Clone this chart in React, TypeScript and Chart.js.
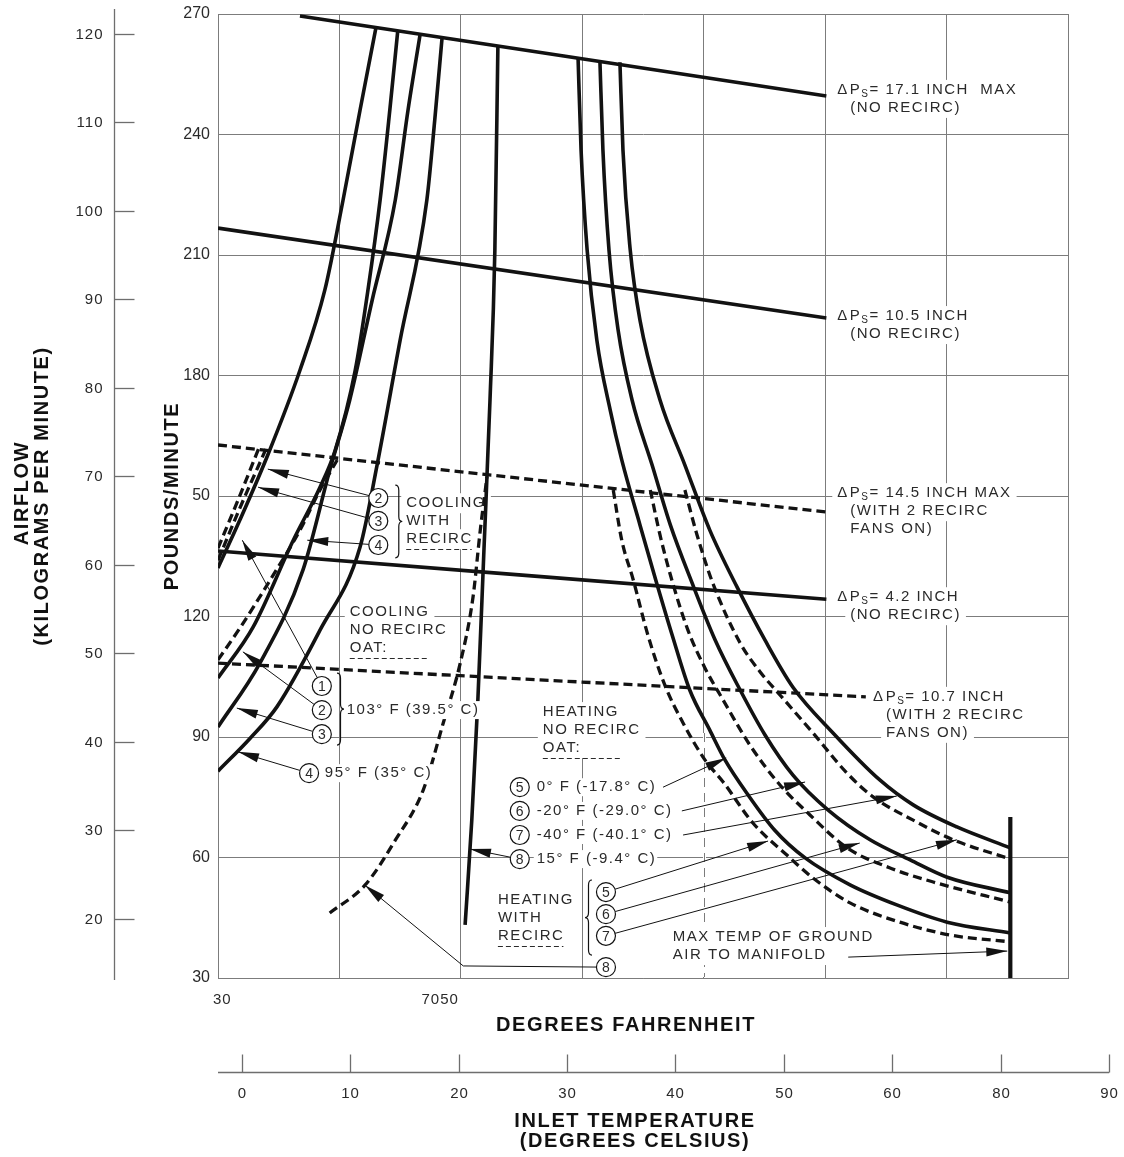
import React, { useEffect, useRef } from "react";
import { Chart, registerables } from "chart.js";
Chart.register(...registerables);

const FONT = '"Liberation Sans", Arial, Helvetica, sans-serif';
const INK = "#121212";
const TEXT = "#2a2a2a";
const GRID = "#7c7c7c";

// ---------- axes ----------
const fMin = 30, fMax = 170, fStep = 20;
const pMin = 30, pMax = 270, pStep = 30;
const yTickValues = [30, 60, 90, 120, 150, 180, 210, 240, 270];
const yTickLabels = ["30", "60", "90", "120", "50", "180", "210", "240", "270"];
const fTickValues = [30, 70];
const fTickLabels = ["30", "7050"];
const kgTickValues = [20, 30, 40, 50, 60, 70, 80, 90, 100, 110, 120];
const kgTickLabels = ["20", "30", "40", "50", "60", "70", "80", "90", "100", "110", "120"];
const kgRange = [13.33, 122.26];
const cTickValues = [0, 10, 20, 30, 40, 50, 60, 70, 80];
const cTickLabels = ["0", "10", "20", "30", "40", "50", "60", "80", "90"];
const cRange = [-2.18, 76.2];

// ---------- pressure-drop lines (F, lb/min) ----------
const dp171F = [43.5, 130.2];
const dp171P = [269.5, 249.6];
const dp105F = [30, 130.2];
const dp105P = [216.7, 194.3];
const dp42F = [30, 130.2];
const dp42P = [136.3, 124.3];
const dp145F = [30, 130.2];
const dp145P = [162.7, 146.0];
const dp107F = [30, 136.7];
const dp107P = [108.4, 100.0];
const maxTempF = [160.5, 160.5];
const maxTempP = [30, 70.1];

// ---------- cooling, no recirc (solid) ----------
const cool1F = [30.0, 33.6, 38.2, 43.5, 47.6, 50.6, 53.4, 56.0];
const cool1P = [132.1, 144.0, 160.2, 181.3, 201.3, 223.7, 246.1, 266.5];
const cool2F = [30.0, 35.8, 42.4, 46.8, 49.3, 52.6, 54.7, 56.7, 58.3, 59.6];
const cool2P = [104.7, 117.4, 139.0, 152.2, 161.4, 181.3, 201.3, 223.7, 246.1, 265.7];
const cool3F = [30.0, 36.9, 44.0, 48.4, 51.7, 55.4, 59.2, 61.3, 63.3];
const cool3P = [92.5, 108.4, 131.6, 156.4, 173.9, 198.8, 223.7, 246.1, 265.0];
const cool4F = [30.0, 35.3, 39.7, 46.8, 53.4, 56.2, 60.0, 64.4, 65.7, 66.9];
const cool4P = [81.5, 89.7, 97.5, 116.6, 137.3, 157.7, 188.8, 223.7, 243.6, 264.0];

// ---------- cooling, with recirc (dashed) ----------
const coolR2F = [30.0, 33.6, 37.9];
const coolR2P = [134.0, 147.0, 161.7];
const coolR3F = [30.0, 33.3, 36.8];
const coolR3P = [137.0, 149.0, 162.2];
const coolR4F = [30.0, 33.6, 38.6, 43.5, 46.8, 49.8];
const coolR4P = [109.2, 117.1, 129.1, 141.5, 151.5, 159.4];

// ---------- curve 8 ----------
const heat8F = [70.7, 71.8, 72.8, 73.8, 74.8, 75.6, 76.1];
const heat8P = [43.2, 69.3, 99.2, 136.5, 173.9, 211.2, 262.0];
const heatR8F = [48.4, 54.2, 59.2, 63.8, 67.1, 69.9, 72.0, 73.2, 74.3];
const heatR8P = [46.2, 53.1, 64.3, 76.8, 93.5, 108.4, 124.8, 141.5, 154.7];

// ---------- heating, no recirc (solid) ----------
const heat5F = [89.3, 89.8, 90.8, 92.4, 94.6, 96.5, 99.5, 102.1, 104.8, 107.7, 111.0, 113.5, 117.3, 121.7, 126.7, 134.1, 141.8, 150.1, 160.5];
const heat5P = [259.3, 236.1, 211.2, 188.8, 171.4, 159.0, 142.8, 129.1, 115.4, 101.7, 91.7, 84.3, 75.6, 66.8, 59.9, 53.2, 48.2, 43.9, 41.2];
const heat6F = [92.9, 93.4, 94.4, 95.9, 98.2, 101.5, 104.5, 108.1, 111.9, 116.0, 120.1, 124.7, 130.5, 137.4, 144.0, 150.1, 160.5];
const heat6P = [258.5, 236.1, 211.2, 191.3, 173.9, 157.7, 142.8, 128.3, 114.1, 101.7, 90.5, 80.5, 71.8, 64.4, 59.4, 55.1, 51.2];
const heat7F = [96.2, 96.7, 97.9, 99.5, 102.8, 106.9, 111.0, 115.5, 120.1, 124.7, 131.3, 139.0, 144.5, 151.7, 160.5];
const heat7P = [258.0, 236.1, 211.2, 193.8, 173.9, 157.7, 141.5, 127.3, 114.1, 102.4, 91.0, 79.3, 73.1, 67.6, 62.4];

// ---------- heating, with recirc (dashed) ----------
const heatR5F = [95.1, 96.5, 98.4, 100.8, 103.6, 106.6, 110.2, 113.2, 118.1, 123.7, 128.0, 134.1, 142.3, 150.6, 160.5];
const heatR5P = [151.5, 139.0, 129.1, 115.4, 102.9, 93.5, 84.3, 78.8, 68.6, 60.6, 54.9, 48.7, 43.9, 40.7, 39.0];
const heatR6F = [101.2, 102.8, 104.9, 107.4, 110.2, 113.2, 117.6, 122.6, 127.5, 133.6, 140.7, 147.8, 160.5];
const heatR6P = [151.5, 140.3, 128.3, 116.6, 107.2, 99.2, 88.0, 78.0, 70.6, 62.4, 57.4, 53.9, 48.9];
const heatR7F = [106.9, 108.9, 111.5, 116.0, 119.3, 122.6, 128.0, 133.6, 137.9, 144.5, 151.1, 160.5];
const heatR7P = [151.5, 140.3, 128.3, 113.4, 106.2, 100.4, 91.0, 81.0, 75.1, 69.3, 64.4, 59.6];

// ---------- annotations (anchored in data units) ----------
const textBlocks = [
  { f: 132.0, p: 251.1, dp: true, lines: ["= 17.1 INCH  MAX", "(NO RECIRC)"] },
  { f: 132.0, p: 194.8, dp: true, lines: ["= 10.5 INCH", "(NO RECIRC)"] },
  { f: 132.0, p: 150.7, dp: true, lines: ["= 14.5 INCH MAX", "(WITH 2 RECIRC", "FANS ON)"] },
  { f: 132.0, p: 124.8, dp: true, lines: ["= 4.2 INCH", "(NO RECIRC)"] },
  { f: 137.9, p: 100.0, dp: true, lines: ["= 10.7 INCH", "(WITH 2 RECIRC", "FANS ON)"] },
  { f: 61.0, p: 148.2, lines: ["COOLING", "WITH", "RECIRC"], underline: -1 },
  { f: 51.7, p: 121.1, lines: ["COOLING", "NO RECIRC", "OAT:"], underline: 78 },
  { f: 83.5, p: 96.2, lines: ["HEATING", "NO RECIRC", "OAT:"], underline: 77 },
  { f: 76.1, p: 49.4, lines: ["HEATING", "WITH", "RECIRC"], underline: -1 },
  { f: 104.9, p: 40.2, lines: ["MAX TEMP OF GROUND", "AIR TO MANIFOLD"] },
];
const circles = [
  { n: "2", f: 56.4, p: 149.5, tip: [38.2, 156.7] },
  { n: "3", f: 56.4, p: 143.8, tip: [36.6, 152.2] },
  { n: "4", f: 56.4, p: 137.8, tip: [44.7, 139.0] },
  { n: "1", f: 47.1, p: 102.7, tip: [34.0, 139.0] },
  { n: "2", f: 47.1, p: 96.7, tip: [34.1, 111.2] },
  { n: "3", f: 47.1, p: 90.7, tip: [33.1, 97.2] },
  { n: "4", f: 45.0, p: 81.0, tip: [33.3, 86.3] },
  { n: "5", f: 79.7, p: 77.5 },
  { n: "6", f: 79.7, p: 71.6 },
  { n: "7", f: 79.7, p: 65.6 },
  { n: "8", f: 79.7, p: 59.6, tip: [71.5, 62.1] },
  { n: "5", f: 93.9, p: 51.4, tip: [120.6, 64.1] },
  { n: "6", f: 93.9, p: 45.9, tip: [135.7, 63.6] },
  { n: "7", f: 93.9, p: 40.5, tip: [151.7, 64.4] },
  { n: "8", f: 93.9, p: 32.7, via: [70.4, 33.0], tip: [54.2, 53.1] },
];
const freeArrows = [
  { from: [103.3, 77.5], tip: [113.7, 84.8] },
  { from: [106.4, 71.6], tip: [126.7, 78.8] },
  { from: [106.6, 65.6], tip: [141.8, 75.3] },
  { from: [133.8, 35.2], tip: [160.0, 36.7] },
];
const inlineTexts = [
  { text: "103° F (39.5° C)", f: 51.2, p: 96.7 },
  { text: "95° F (35° C)", f: 47.6, p: 81.0 },
  { text: "0° F (-17.8° C)", f: 82.5, p: 77.5 },
  { text: "-20° F (-29.0° C)", f: 82.5, p: 71.6 },
  { text: "-40° F (-40.1° C)", f: 82.5, p: 65.6 },
  { text: "15° F (-9.4° C)", f: 82.5, p: 59.6 },
];
const braces = [
  { f: 59.2, p1: 152.7, p2: 134.6, w: 7 },
  { f: 49.6, p1: 105.9, p2: 88.0, w: 7 },
  { f: 91.6, p1: 54.4, p2: 35.7, w: -7 },
];

const LINE_H = 18;
const CIRCLE_R = 9.5;

function setFont(ctx: any, size: number, bold = false, spacing = 1.5) {
  ctx.font = `${bold ? "bold " : ""}${size}px ${FONT}`;
  ctx.letterSpacing = `${spacing}px`;
}

function dpLine(ctx: any, x: number, y: number, rest: string, draw: boolean) {
  setFont(ctx, 15);
  let cx = x;
  if (draw) ctx.fillText("Δ", cx, y);
  cx += ctx.measureText("Δ").width + 1;
  if (draw) ctx.fillText("P", cx, y);
  cx += ctx.measureText("P").width;
  setFont(ctx, 10, false, 0.5);
  if (draw) ctx.fillText("S", cx, y + 4);
  cx += ctx.measureText("S").width + 1;
  setFont(ctx, 15);
  if (draw) ctx.fillText(rest, cx, y);
  cx += ctx.measureText(rest).width;
  return cx - x;
}

function blockLines(chart: any, b: any) {
  const x0 = chart.scales.x.getPixelForValue(b.f);
  const y0 = chart.scales.y.getPixelForValue(b.p);
  return b.lines.map((t: string, i: number) => ({
    t,
    i,
    x: x0 + (b.dp && i > 0 ? 13 : 0),
    y: y0 + i * LINE_H,
  }));
}

function arrowHead(ctx: any, x1: number, y1: number, x2: number, y2: number) {
  const a = Math.atan2(y2 - y1, x2 - x1);
  const L = 21, W = 4.5;
  const bx = x2 - L * Math.cos(a), by = y2 - L * Math.sin(a);
  ctx.beginPath();
  ctx.moveTo(x2, y2);
  ctx.lineTo(bx + W * Math.sin(a), by - W * Math.cos(a));
  ctx.lineTo(bx - W * Math.sin(a), by + W * Math.cos(a));
  ctx.closePath();
  ctx.fill();
}

function polyArrow(ctx: any, pts: number[][]) {
  ctx.beginPath();
  ctx.moveTo(pts[0][0], pts[0][1]);
  for (let i = 1; i < pts.length; i++) ctx.lineTo(pts[i][0], pts[i][1]);
  ctx.stroke();
  const n = pts.length;
  arrowHead(ctx, pts[n - 2][0], pts[n - 2][1], pts[n - 1][0], pts[n - 1][1]);
}

function brace(ctx: any, x: number, y1: number, y2: number, w: number) {
  const ym = (y1 + y2) / 2;
  const r = 5;
  const xm = x + w / 2;
  ctx.beginPath();
  ctx.moveTo(x, y1);
  ctx.quadraticCurveTo(xm, y1, xm, y1 + r);
  ctx.lineTo(xm, ym - r);
  ctx.quadraticCurveTo(xm, ym, x + w, ym);
  ctx.quadraticCurveTo(xm, ym, xm, ym + r);
  ctx.lineTo(xm, y2 - r);
  ctx.quadraticCurveTo(xm, y2, x, y2);
  ctx.stroke();
}

const annotPlugin = {
  id: "annot",
  beforeDatasetsDraw(chart: any) {
    const ctx = chart.ctx;
    const sx = chart.scales.x, sy = chart.scales.y;
    ctx.save();
    // dashed lower part of the 110 F grid line
    const gx = Math.round(sx.getPixelForValue(110)) + 0.5;
    const gTop = sy.getPixelForValue(90) - 4;
    const gBot = chart.chartArea.bottom - 1;
    ctx.strokeStyle = "#ffffff";
    ctx.lineWidth = 3;
    ctx.beginPath(); ctx.moveTo(gx, gTop); ctx.lineTo(gx, gBot); ctx.stroke();
    ctx.strokeStyle = GRID;
    ctx.lineWidth = 1;
    ctx.setLineDash([9, 6]);
    ctx.beginPath(); ctx.moveTo(gx, gTop); ctx.lineTo(gx, gBot); ctx.stroke();
    ctx.setLineDash([]);
    // white knock-outs behind text blocks
    ctx.fillStyle = "#ffffff";
    for (const b of textBlocks) {
      for (const l of blockLines(chart, b)) {
        let w;
        if (b.dp && l.i === 0) w = dpLine(ctx, l.x, l.y, l.t, false);
        else { setFont(ctx, 15); w = ctx.measureText(l.t).width; }
        ctx.fillRect(l.x - 5, l.y - 10, w + 10, 20);
      }
    }
    ctx.restore();
  },
  afterDatasetsDraw(chart: any) {
    const ctx = chart.ctx;
    const sx = chart.scales.x, sy = chart.scales.y;
    const X = (f: number) => sx.getPixelForValue(f);
    const Y = (p: number) => sy.getPixelForValue(p);
    ctx.save();
    // knock-outs for inline texts (cut curves passing behind them)
    ctx.fillStyle = "#ffffff";
    for (const t of inlineTexts) {
      setFont(ctx, 15);
      const w = ctx.measureText(t.text).width;
      ctx.fillRect(X(t.f) - 3, Y(t.p) - 9, w + 4, 18);
    }
    ctx.fillStyle = TEXT;
    ctx.textBaseline = "middle";
    ctx.textAlign = "left";
    // text blocks
    for (const b of textBlocks) {
      const ls = blockLines(chart, b);
      for (const l of ls) {
        if (b.dp && l.i === 0) dpLine(ctx, l.x, l.y, l.t, true);
        else { setFont(ctx, 15); ctx.fillText(l.t, l.x, l.y); }
      }
      if (b.underline !== undefined) {
        const last = ls[ls.length - 1];
        setFont(ctx, 15);
        const w = b.underline > 0 ? b.underline : ctx.measureText(last.t).width - 1;
        ctx.strokeStyle = TEXT;
        ctx.lineWidth = 1;
        ctx.setLineDash([5, 3]);
        ctx.beginPath();
        ctx.moveTo(last.x, Math.round(last.y + 10) + 0.5);
        ctx.lineTo(last.x + w, Math.round(last.y + 10) + 0.5);
        ctx.stroke();
        ctx.setLineDash([]);
      }
    }
    for (const t of inlineTexts) {
      setFont(ctx, 15);
      ctx.fillText(t.text, X(t.f), Y(t.p));
    }
    // braces
    ctx.strokeStyle = INK;
    ctx.lineWidth = 1.2;
    for (const b of braces) brace(ctx, X(b.f), Y(b.p1), Y(b.p2), b.w);
    // arrows
    ctx.fillStyle = INK;
    ctx.lineWidth = 1;
    for (const a of freeArrows) {
      polyArrow(ctx, [[X(a.from[0]), Y(a.from[1])], [X(a.tip[0]), Y(a.tip[1])]]);
    }
    for (const c of circles) {
      if (!c.tip) continue;
      const cx = X(c.f), cy = Y(c.p);
      const pts: number[][] = [];
      const next = c.via ? [X(c.via[0]), Y(c.via[1])] : [X(c.tip[0]), Y(c.tip[1])];
      const a = Math.atan2(next[1] - cy, next[0] - cx);
      pts.push([cx + CIRCLE_R * Math.cos(a), cy + CIRCLE_R * Math.sin(a)]);
      if (c.via) pts.push(next);
      pts.push([X(c.tip[0]), Y(c.tip[1])]);
      polyArrow(ctx, pts);
    }
    // circles
    for (const c of circles) {
      const cx = X(c.f), cy = Y(c.p);
      ctx.beginPath();
      ctx.arc(cx, cy, CIRCLE_R, 0, Math.PI * 2);
      ctx.fillStyle = "#ffffff";
      ctx.fill();
      ctx.strokeStyle = INK;
      ctx.lineWidth = 1.2;
      ctx.stroke();
      ctx.fillStyle = TEXT;
      setFont(ctx, 14, false, 0);
      ctx.textAlign = "center";
      ctx.fillText(c.n, cx, cy + 1);
      ctx.textAlign = "left";
    }
    ctx.restore();
  },
  afterDraw(chart: any) {
    const ctx = chart.ctx;
    const ca = chart.chartArea;
    const sx = chart.scales.x, kg = chart.scales.ykg, xc = chart.scales.xc;
    ctx.save();
    ctx.strokeStyle = "#6e6e6e";
    ctx.fillStyle = TEXT;
    ctx.lineWidth = 1.3;
    // kilogram axis
    const kx = 114.5;
    ctx.beginPath();
    ctx.moveTo(kx, ca.top - 5);
    ctx.lineTo(kx, ca.bottom + 2);
    ctx.stroke();
    setFont(ctx, 15, false, 1);
    ctx.textAlign = "right";
    ctx.textBaseline = "middle";
    kgTickValues.forEach((v, i) => {
      const yy = Math.round(kg.getPixelForValue(v)) + 0.5;
      ctx.beginPath();
      ctx.moveTo(kx, yy);
      ctx.lineTo(kx + 20, yy);
      ctx.stroke();
      ctx.fillText(kgTickLabels[i], kx - 11, yy);
    });
    // Fahrenheit tick labels
    setFont(ctx, 15, false, 1);
    fTickValues.forEach((v, i) => {
      const xx = sx.getPixelForValue(v);
      if (i === 0) { ctx.textAlign = "left"; ctx.fillText(fTickLabels[i], xx - 5, ca.bottom + 22); }
      else { ctx.textAlign = "right"; ctx.fillText(fTickLabels[i], xx - 2, ca.bottom + 22); }
    });
    // Celsius axis
    const cy = ca.bottom + 94.5;
    ctx.beginPath();
    ctx.moveTo(ca.left, cy);
    ctx.lineTo(xc.getPixelForValue(cTickValues[cTickValues.length - 1]), cy);
    ctx.stroke();
    ctx.textAlign = "center";
    cTickValues.forEach((v, i) => {
      const xx = Math.round(xc.getPixelForValue(v)) + 0.5;
      ctx.beginPath();
      ctx.moveTo(xx, cy);
      ctx.lineTo(xx, cy - 18);
      ctx.stroke();
      ctx.fillText(cTickLabels[i], xx, cy + 21);
    });
    // titles
    ctx.fillStyle = "#111";
    setFont(ctx, 20, true, 1.6);
    ctx.textAlign = "center";
    ctx.fillText("DEGREES FAHRENHEIT", 626, ca.bottom + 47);
    ctx.fillText("INLET TEMPERATURE", 635, ca.bottom + 143);
    ctx.fillText("(DEGREES CELSIUS)", 635, ca.bottom + 163);
    const vtext = (t: string, x: number, y: number) => {
      ctx.save();
      ctx.translate(x, y);
      ctx.rotate(-Math.PI / 2);
      ctx.fillText(t, 0, 0);
      ctx.restore();
    };
    vtext("POUNDS/MINUTE", 172, 496);
    vtext("AIRFLOW", 22, 493);
    vtext("(KILOGRAMS PER MINUTE)", 42, 496);
    ctx.restore();
  },
};

export default function App() {
  const ref = useRef<HTMLCanvasElement>(null);
  useEffect(() => {
    const canvas = ref.current as HTMLCanvasElement;
    const mk = (fs: number[], ps: number[]) => fs.map((f, i) => ({ x: f, y: ps[i] }));
    const solid = (fs: number[], ps: number[], w = 3.6): any => ({
      data: mk(fs, ps),
      borderColor: INK,
      borderWidth: w,
      showLine: true,
      pointRadius: 0,
      fill: false,
      cubicInterpolationMode: "monotone",
      borderCapStyle: "butt",
    });
    const dashed = (fs: number[], ps: number[]): any => ({ ...solid(fs, ps, 3.3), borderDash: [9, 5] });
    const chart = new Chart(canvas, {
      type: "scatter",
      data: {
        datasets: [
          solid(dp171F, dp171P),
          solid(dp105F, dp105P),
          solid(dp42F, dp42P),
          dashed(dp145F, dp145P),
          dashed(dp107F, dp107P),
          solid(maxTempF, maxTempP, 4.2),
          solid(cool1F, cool1P),
          solid(cool2F, cool2P),
          solid(cool3F, cool3P),
          solid(cool4F, cool4P),
          dashed(coolR2F, coolR2P),
          dashed(coolR3F, coolR3P),
          dashed(coolR4F, coolR4P),
          solid(heat8F, heat8P),
          dashed(heatR8F, heatR8P),
          solid(heat5F, heat5P),
          solid(heat6F, heat6P),
          solid(heat7F, heat7P),
          dashed(heatR5F, heatR5P),
          dashed(heatR6F, heatR6P),
          dashed(heatR7F, heatR7P),
        ],
      },
      options: {
        responsive: false,
        animation: false,
        events: [],
        layout: { padding: { top: 14, right: 56, left: 0, bottom: 0 } },
        plugins: { legend: { display: false }, tooltip: { enabled: false }, title: { display: false } },
        scales: {
          x: {
            type: "linear",
            position: "bottom",
            min: fMin,
            max: fMax,
            ticks: { stepSize: fStep, display: false },
            grid: { color: GRID, lineWidth: 1, drawTicks: false },
            border: { display: true, color: GRID },
            afterFit: (s: any) => { s.height = 179; s.paddingLeft = 0; s.paddingRight = 0; },
          },
          y: {
            type: "linear",
            position: "left",
            min: pMin,
            max: pMax,
            ticks: {
              stepSize: pStep,
              padding: 8,
              color: TEXT,
              font: { family: FONT, size: 16 },
              callback: (v: any) => {
                const i = yTickValues.indexOf(Number(v));
                return i >= 0 ? yTickLabels[i] : "";
              },
            },
            grid: { color: GRID, lineWidth: 1, drawTicks: false },
            border: { display: true, color: GRID },
            afterFit: (s: any) => { s.width = 218; s.paddingTop = 0; s.paddingBottom = 0; },
          },
          ykg: { type: "linear", position: "left", display: false, min: kgRange[0], max: kgRange[1] },
          xc: { type: "linear", position: "bottom", display: false, min: cRange[0], max: cRange[1] },
        },
      } as any,
      plugins: [annotPlugin as any],
    });
    return () => chart.destroy();
  }, []);
  return (
    <div style={{ position: "absolute", left: 0, top: 0, width: 1124, height: 1157, background: "#fff", overflow: "hidden" }}>
      <canvas ref={ref} width={1124} height={1157} style={{ display: "block" }} />
    </div>
  );
}
